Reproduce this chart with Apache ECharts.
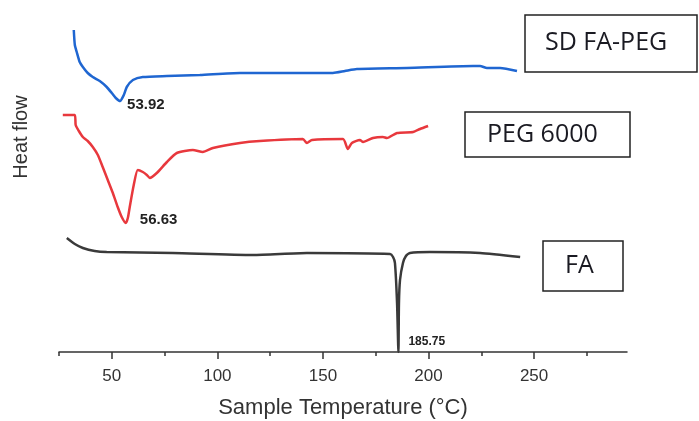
<!DOCTYPE html>
<html>
<head>
<meta charset="utf-8">
<script src="https://cdn.jsdelivr.net/npm/echarts@6/dist/echarts.min.js"></script>
<style>
  html, body { margin: 0; padding: 0; background: #fff; }
  #main { width: 699px; height: 421px; }
</style>
</head>
<body>
<div id="main"></div>
<script>
// SD FA-PEG (blue)
var sdTemp = [32.0, 32.5, 33.4, 34.8, 36.3, 38.6, 41.0, 44.3, 47.6, 50.0, 51.9, 53.92, 55.7, 57.1, 60.0, 64.7, 76.1, 91.7, 110.7, 139.1, 154.7, 160.4, 166.1, 189.8, 221.1, 224.4, 227.7, 233.9, 241.9];
var sdFlow = [322, 307, 300, 290, 285, 279, 275, 271, 265, 259, 254, 251, 257, 265, 272, 275, 276, 277, 279, 279, 279, 281, 283, 284, 286, 286, 284, 284, 281];

// PEG 6000 (red)
var pegTemp = [26.8, 32.5, 32.9, 34.4, 36.3, 38.6, 41.0, 43.4, 45.7, 48.1, 50.5, 52.8, 54.7, 56.63, 57.6, 58.5, 60.4, 62.3, 64.7, 66.6, 68.0, 71.3, 76.1, 80.8, 88.4, 93.1, 97.9, 110.7, 120.1, 140.5, 142.4, 144.8, 159.5, 161.8, 163.7, 167.5, 169.0, 173.7, 178.4, 180.3, 185.1, 192.7, 196.0, 199.8];
var pegFlow = [237, 237, 227, 221, 215, 211, 205, 197, 185, 172, 159, 145, 135, 129, 134, 145, 167, 182, 180, 177, 174, 179, 190, 199, 202, 200, 204, 209, 211, 213, 209, 212, 213, 203, 209, 212, 210, 214, 215, 214, 219, 220, 223, 226];

// FA (black)
var faTemp = [28.7, 32.5, 36.3, 41.9, 47.6, 78.9, 116.8, 142.4, 181.8, 183.2, 184.1, 185.1, 185.75, 186.0, 186.5, 187.9, 189.3, 191.2, 200.7, 224.4, 243.4];
var faFlow = [114, 108, 104, 101, 100, 99, 97, 99, 98, 95, 89, 49, 0, 49, 72, 89, 96, 99, 100, 99, 95];

var majorTicks = [50, 100, 150, 200, 250];
var minorTicks = [25, 75, 125, 175, 225, 275];

var peaks = [
  { name: '53.92', t: 53.92, v: 251 },
  { name: '56.63', t: 56.63, v: 129 },
  { name: '185.75', t: 185.75, v: 0 }
];

var arial = "'Liberation Sans', Arial, Helvetica, sans-serif";
var calibri = "'Open Sans', sans-serif";

function pairs(xs, ys) {
  return xs.map(function (x, i) { return [x, ys[i]]; });
}

var chartDom = document.getElementById('main');
var myChart = echarts.init(chartDom);
var option;

function peakMark(p, pos, size) {
  return {
    symbol: 'circle',
    symbolSize: 0,
    silent: true,
    data: [{ coord: [p.t, p.v], value: p.name }],
    label: {
      show: true,
      position: pos,
      formatter: p.name,
      color: '#222',
      fontWeight: 'bold',
      fontSize: size,
      fontFamily: arial
    }
  };
}

option = {
  animation: false,
  backgroundColor: '#fff',
  grid: { left: 59, right: 72, top: 20, bottom: 69, containLabel: false, outerBoundsMode: 'none' },
  xAxis: [
    {
      type: 'value',
      min: 25,
      max: 294,
      interval: 25,
      name: 'Sample Temperature (°C)',
      nameLocation: 'middle',
      nameGap: 45,
      nameTextStyle: { fontSize: 22, color: '#333', fontFamily: arial },
      axisLine: { show: true, lineStyle: { color: '#333', width: 1.5 } },
      axisTick: { show: true, customValues: minorTicks, length: 4, lineStyle: { color: '#333', width: 1.5 } },
      axisLabel: {
        customValues: majorTicks,
        margin: 16,
        fontSize: 17,
        color: '#333',
        fontFamily: arial
      },
      splitLine: { show: false }
    },
    {
      type: 'value',
      min: 25,
      max: 294,
      interval: 25,
      position: 'bottom',
      axisLine: { show: false },
      axisTick: { show: true, customValues: majorTicks, length: 7, lineStyle: { color: '#333', width: 1.5 } },
      axisLabel: { show: false },
      splitLine: { show: false }
    }
  ],
  yAxis: { type: 'value', min: 0, max: 332, show: false },
  series: [
    {
      name: 'SD FA-PEG',
      type: 'line',
      data: pairs(sdTemp, sdFlow),
      showSymbol: false,
      smooth: 0.2,
      lineStyle: { color: '#1f66d1', width: 2.5 },
      markPoint: peakMark(peaks[0], [7, -4], 15)
    },
    {
      name: 'PEG 6000',
      type: 'line',
      data: pairs(pegTemp, pegFlow),
      showSymbol: false,
      smooth: 0.2,
      lineStyle: { color: '#e8383d', width: 2.5 },
      markPoint: peakMark(peaks[1], [14, -11], 15)
    },
    {
      name: 'FA',
      type: 'line',
      data: pairs(faTemp, faFlow),
      showSymbol: false,
      smooth: 0.2,
      lineStyle: { color: '#3a3a3a', width: 2.5 },
      markPoint: peakMark(peaks[2], [10, -16], 12)
    }
  ],
  graphic: [
    {
      type: 'text',
      x: 21, y: 137,
      rotation: Math.PI / 2,
      style: {
        text: 'Heat flow',
        fontSize: 20,
        fill: '#333',
        fontFamily: arial,
        align: 'center',
        verticalAlign: 'middle'
      }
    },
    { type: 'rect', shape: { x: 525, y: 15, width: 172, height: 57 }, style: { fill: '#fff', stroke: '#222', lineWidth: 1.5 } },
    { type: 'text', x: 545, y: 43, style: { text: 'SD FA-PEG', fontSize: 25, fill: '#1a1a22', fontFamily: calibri, verticalAlign: 'middle' } },
    { type: 'rect', shape: { x: 465, y: 112, width: 165, height: 45 }, style: { fill: '#fff', stroke: '#222', lineWidth: 1.5 } },
    { type: 'text', x: 487, y: 135, style: { text: 'PEG 6000', fontSize: 25, fill: '#1a1a22', fontFamily: calibri, verticalAlign: 'middle' } },
    { type: 'rect', shape: { x: 543, y: 241, width: 80, height: 50 }, style: { fill: '#fff', stroke: '#222', lineWidth: 1.5 } },
    { type: 'text', x: 565, y: 266, style: { text: 'FA', fontSize: 25, fill: '#1a1a22', fontFamily: calibri, verticalAlign: 'middle' } }
  ]
};

option && myChart.setOption(option);
</script>
</body>
</html>
